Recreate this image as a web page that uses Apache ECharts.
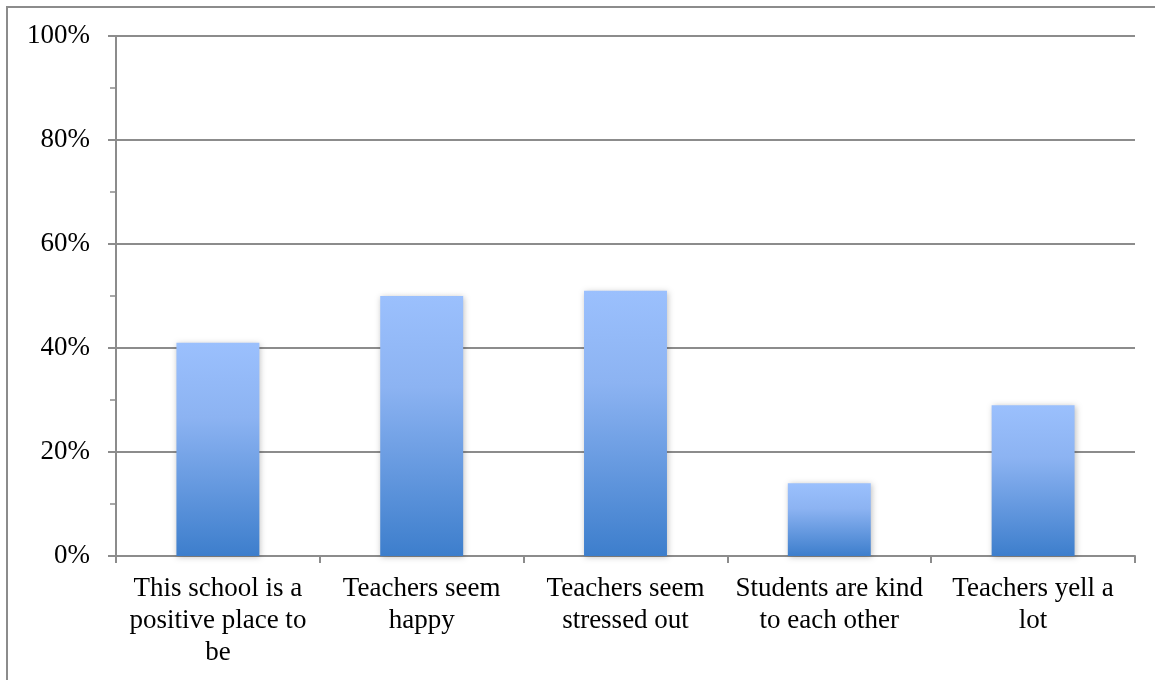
<!DOCTYPE html>
<html>
<head>
<meta charset="utf-8">
<script src="https://cdn.jsdelivr.net/npm/echarts@6/dist/echarts.min.js"></script>
<style>
html,body{margin:0;padding:0;background:#fff;}
#chart{width:1155px;height:680px;}
</style>
</head>
<body>
<div id="chart"></div>
<script>
const categories = [
  "This school is a\npositive place to\nbe",
  "Teachers seem\nhappy",
  "Teachers seem\nstressed out",
  "Students are kind\nto each other",
  "Teachers yell a\nlot"
];
const values = [41, 50, 51, 14, 29];
const yTicks = [0, 20, 40, 60, 80, 100];

const chart = echarts.init(document.getElementById('chart'), null, {renderer: 'canvas'});
const fontFamily = '"Liberation Serif", "DejaVu Serif", serif';
const gray = '#8c8c8c';
chart.setOption({
  animation: false,
  backgroundColor: '#fff',
  graphic: [{
    type: 'rect',
    shape: {x: 7, y: 7, width: 1300, height: 800},
    style: {fill: 'none', stroke: gray, lineWidth: 2},
    silent: true,
    z: -1
  }],
  grid: {left: 116, right: 20, top: 36, bottom: 124, containLabel: false},
  xAxis: {
    type: 'category',
    data: categories,
    boundaryGap: true,
    axisLine: {show: true, lineStyle: {color: gray, width: 2}},
    axisTick: {show: true, length: 7, lineStyle: {color: gray, width: 2}},
    axisLabel: {
      interval: 0,
      color: '#000',
      fontFamily: fontFamily,
      fontSize: 27,
      lineHeight: 32,
      margin: 17,
      align: 'center'
    },
    splitLine: {show: false}
  },
  yAxis: {
    type: 'value',
    min: yTicks[0],
    max: yTicks[yTicks.length - 1],
    interval: 20,
    axisLine: {show: true, lineStyle: {color: gray, width: 2}},
    axisTick: {show: true, length: 8, lineStyle: {color: gray, width: 2}},
    minorTick: {show: true, splitNumber: 2, length: 6, lineStyle: {color: gray, width: 1.5}},
    axisLabel: {
      color: '#000',
      fontFamily: fontFamily,
      fontSize: 27,
      margin: 26,
      formatter: v => v + '%'
    },
    splitLine: {show: true, lineStyle: {color: gray, width: 2}}
  },
  series: [{
    type: 'bar',
    data: values,
    barWidth: '40.7%',
    itemStyle: {
      color: new echarts.graphic.LinearGradient(0, 0, 0, 1, [
        {offset: 0, color: '#9bc0fd'},
        {offset: 0.35, color: '#8cb3f2'},
        {offset: 1, color: '#3d7ecc'}
      ]),
      shadowBlur: 6,
      shadowColor: 'rgba(0,0,0,0.25)',
      shadowOffsetX: 1,
      shadowOffsetY: 1
    },
    z: 3
  }]
});
</script>
</body>
</html>
